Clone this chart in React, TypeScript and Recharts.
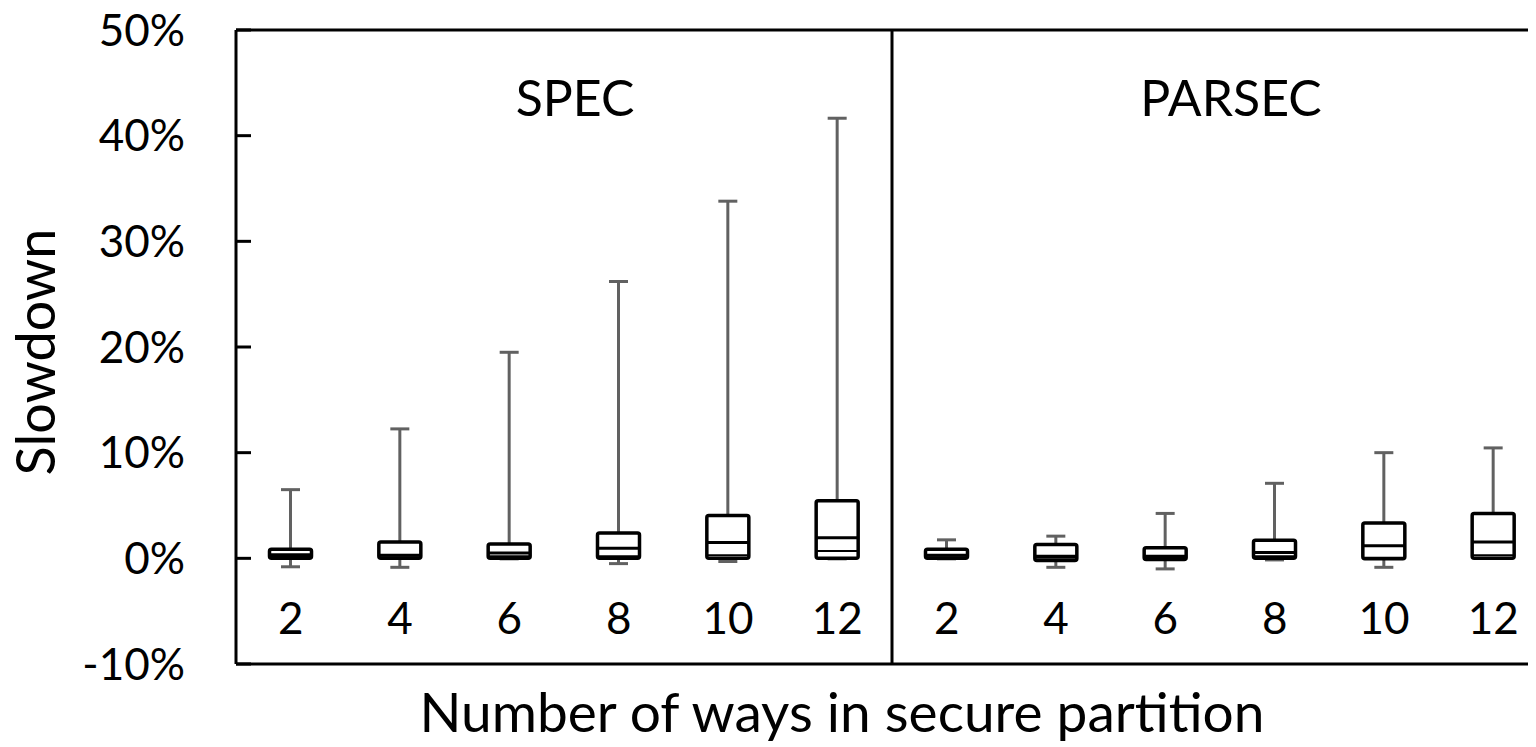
import { ComposedChart, Bar, XAxis, YAxis, ReferenceLine, ReferenceDot } from 'recharts';

const ways = ['2', '4', '6', '8', '10', '12'];
const groups = ['SPEC', 'PARSEC'];
const yTicks = [-10, 0, 10, 20, 30, 40, 50];

// per box: SPEC 2..12, then PARSEC 2..12 (values in %)
const maxVals = [6.5, 12.25, 19.5, 26.2, 33.8, 41.65, 1.75, 2.1, 4.25, 7.1, 10.0, 10.45];
const q3Vals = [0.85, 1.55, 1.35, 2.4, 4.05, 5.45, 0.85, 1.3, 1.0, 1.7, 3.35, 4.25];
const midVals = [0.35, 0.3, 0.5, 0.95, 1.5, 1.95, 0.3, 0.2, 0.2, 0.55, 1.2, 1.55];
const lowVals = [0.15, 0.1, 0.2, 0.2, 0.3, 0.7, 0.1, 0.05, 0.1, 0.2, 0.05, 0.3];
const q1Vals = [0, 0, 0, 0, 0, 0, 0, -0.2, -0.1, 0, -0.05, 0];
const minVals = [-0.8, -0.85, -0.05, -0.5, -0.3, -0.05, -0.05, -0.85, -1.0, -0.15, -0.85, 0];

const data = maxVals.map((mx, i) => ({
  pos: i + 0.5,
  label: ways[i % ways.length],
  range: [minVals[i], mx],
  min: minVals[i],
  q1: q1Vals[i],
  low: lowVals[i],
  mid: midVals[i],
  q3: q3Vals[i],
  max: mx,
}));

const FONT = 'Lato, "Open Sans", sans-serif';
const WHISKER = '#616161';

function BoxShape(props: any) {
  const { x, y, width, height, payload } = props;
  if (!payload) return null;
  const { min, max } = payload;
  const yTop = y;
  const yBot = y + height;
  const py = (v: number) => yBot + ((v - min) / (max - min)) * (yTop - yBot);
  const cx = x + width / 2;
  const capW = 19;
  const boxW = 42;
  return (
    <g>
      <line x1={cx} x2={cx} y1={py(max)} y2={py(payload.q3)} stroke={WHISKER} strokeWidth={3} />
      <line x1={cx - capW / 2} x2={cx + capW / 2} y1={py(max)} y2={py(max)} stroke={WHISKER} strokeWidth={3} />
      <line x1={cx} x2={cx} y1={py(payload.q1)} y2={py(min)} stroke={WHISKER} strokeWidth={3} />
      <line x1={cx - capW / 2} x2={cx + capW / 2} y1={py(min)} y2={py(min)} stroke={WHISKER} strokeWidth={3} />
      <rect
        x={cx - boxW / 2}
        y={py(payload.q3)}
        width={boxW}
        height={py(payload.q1) - py(payload.q3)}
        fill="#fff"
        stroke="#000"
        strokeWidth={3.5}
        rx={2}
      />
      <line x1={cx - boxW / 2} x2={cx + boxW / 2} y1={py(payload.mid)} y2={py(payload.mid)} stroke="#000" strokeWidth={3} />
      <line x1={cx - boxW / 2} x2={cx + boxW / 2} y1={py(payload.low)} y2={py(payload.low)} stroke="#000" strokeWidth={2} />
    </g>
  );
}

function WayTick(props: any) {
  const { x, y, payload } = props;
  const idx = Math.floor(payload.value);
  return (
    <text x={x} y={y - 46} dy="0.36em" textAnchor="middle" fontSize={44} fill="#000" fontFamily={FONT}>
      {ways[idx % ways.length]}
    </text>
  );
}

function XTitle(props: any) {
  const vb = props.viewBox || {};
  return (
    <text x={vb.x + vb.width / 2 - 50} y={vb.y + 68} textAnchor="middle" fontSize={55} fill="#000" fontFamily={FONT}>
      Number of ways in secure partition
    </text>
  );
}

function YTitle(props: any) {
  const vb = props.viewBox || {};
  const cx = vb.x + 55;
  const cy = vb.y + vb.height / 2 + 5;
  return (
    <text x={cx} y={cy} transform={`rotate(-90 ${cx} ${cy})`} textAnchor="middle" fontSize={54} fill="#000" fontFamily={FONT}>
      Slowdown
    </text>
  );
}

export default function App() {
  return (
    <div style={{ margin: '-8px 0 0 -8px', width: 1536, height: 747, overflow: 'hidden', background: '#fff', fontFamily: FONT }}>
      <ComposedChart width={1560} height={747} data={data} margin={{ top: 30, right: 12, bottom: 0, left: 0 }}>
        <XAxis
          type="number"
          dataKey="pos"
          domain={[0, 12]}
          ticks={data.map((d) => d.pos)}
          tick={<WayTick />}
          tickLine={false}
          tickSize={0}
          tickMargin={0}
          axisLine={{ stroke: '#000', strokeWidth: 3 }}
          height={83}
          interval={0}
          label={<XTitle />}
        />
        <YAxis
          type="number"
          domain={[-10, 50]}
          ticks={yTicks}
          width={236}
          tickFormatter={(v: number) => `${v}%`}
          tick={{ fontSize: 44, fill: '#000' }}
          tickSize={-15}
          tickMargin={66}
          tickLine={{ stroke: '#000', strokeWidth: 3 }}
          axisLine={{ stroke: '#000', strokeWidth: 3 }}
          label={<YTitle />}
        />
        <ReferenceLine y={50} stroke="#000" strokeWidth={3} />
        <ReferenceLine x={6} stroke="#000" strokeWidth={3} />
        {groups.map((g, gi) => (
          <ReferenceDot
            key={g}
            x={gi * 6 + 3}
            y={43.5}
            r={1}
            fill="none"
            stroke="none"
            label={{ value: g, position: 'center', dx: 11, fontSize: 50, fill: '#000' }}
          />
        ))}
        <Bar dataKey="range" barSize={45} shape={<BoxShape />} isAnimationActive={false} />
      </ComposedChart>
    </div>
  );
}
